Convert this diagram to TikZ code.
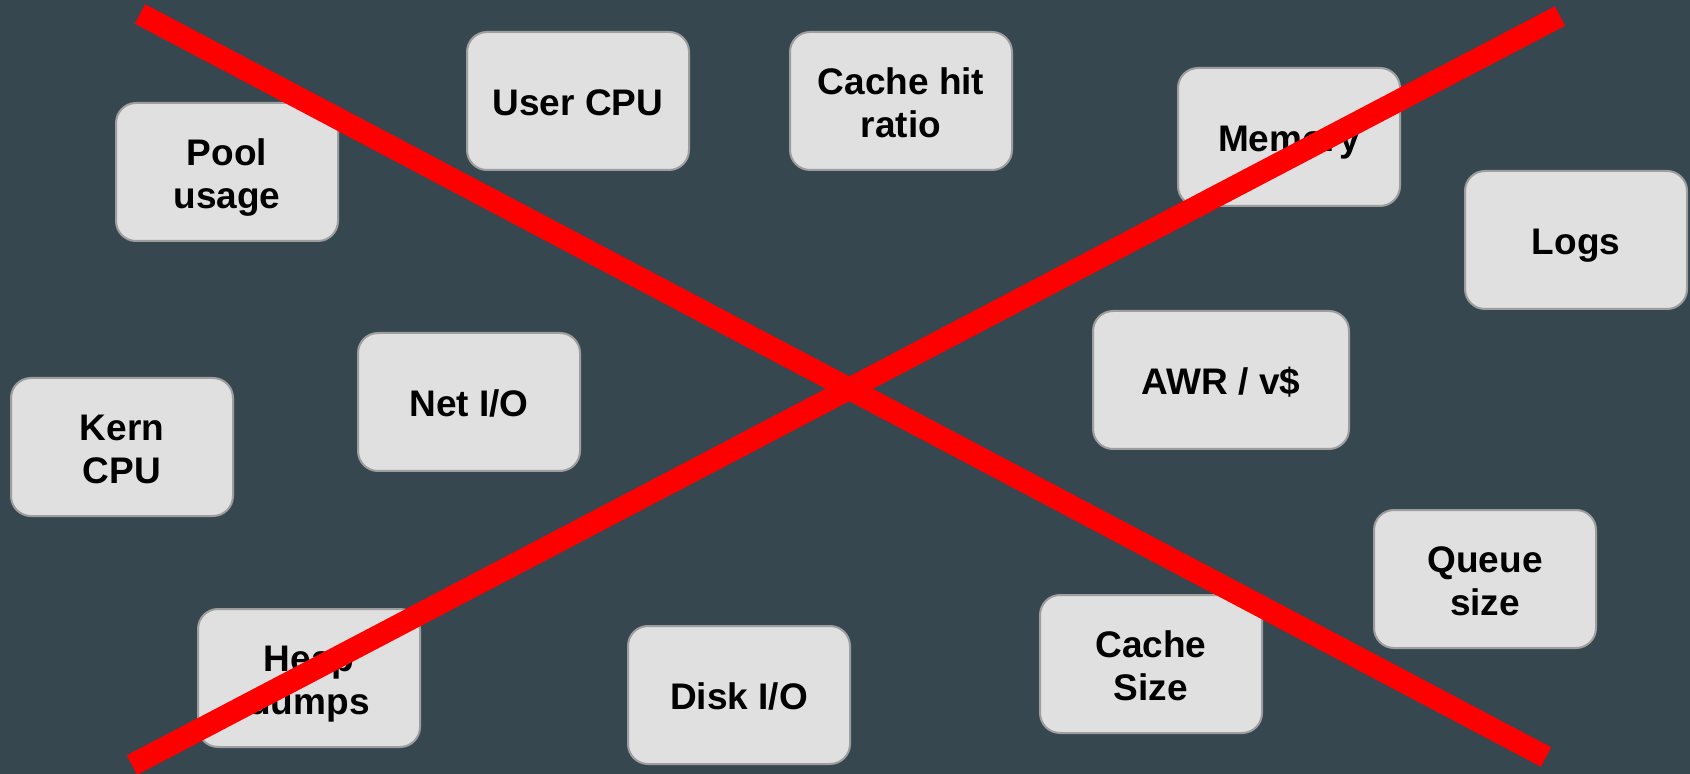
\documentclass[tikz,border=0pt]{standalone}
\usepackage{fontspec}
\setmainfont{Liberation Sans}
\definecolor{slate}{HTML}{37474F}
\definecolor{tile}{HTML}{E0E0E0}
\definecolor{tileedge}{HTML}{9E9E9E}
\definecolor{cross}{HTML}{FF0000}
% centred label lines, set a little below the middle of the tile
\newcommand\tiletext[1]{\raisebox{-3pt}[\height][\depth]{\begin{tabular}{@{}c@{}}#1\end{tabular}}}
\begin{document}
\begin{tikzpicture}[x=0.5pt,y=-0.5pt,
  metric/.style={draw=tileedge, line width=1pt, fill=tile, rounded corners=10pt,
    minimum width=111pt, minimum height=69pt, inner sep=0pt,
    font=\fontsize{18.5pt}{21.6pt}\selectfont\bfseries, text=black},
  strike/.style={draw=cross, line width=11pt, line cap=butt}]
  % backdrop
  \fill[slate] (0,0) rectangle (1690,774);
  \useasboundingbox (0,0) rectangle (1690,774);

  % metric tiles
  \node[metric] (pool)  at (227,172)  {\tiletext{Pool\\usage}};
  \node[metric] (ucpu)  at (578,101)  {\tiletext{User CPU}};
  \node[metric] (chr)   at (901,101)  {\tiletext{Cache hit\\ratio}};
  \node[metric] (mem)   at (1289,137) {\tiletext{Memory}};
  \node[metric] (logs)  at (1576,240) {\tiletext{Logs}};
  \node[metric] (net)   at (469,402)  {\tiletext{Net I/O}};
  \node[metric] (kcpu)  at (122,447)  {\tiletext{Kern\\CPU}};
  \node[metric, minimum width=128pt] (awr) at (1221,380) {\tiletext{AWR / v\$}};
  \node[metric] (heap)  at (309,678)  {\tiletext{Heap\\dumps}};
  \node[metric] (disk)  at (739,695)  {\tiletext{Disk I/O}};
  \node[metric] (csize) at (1151,664) {\tiletext{Cache\\Size}};
  \node[metric] (queue) at (1485,579) {\tiletext{Queue\\size}};

  % the big cross over everything
  \coordinate (tl) at (140,14);
  \coordinate (br) at (1546,757);
  \coordinate (tr) at (1560,16);
  \coordinate (bl) at (132,765);
  \draw[strike] (tl) -- (br);
  \draw[strike] (tr) -- (bl);
\end{tikzpicture}
\end{document}
